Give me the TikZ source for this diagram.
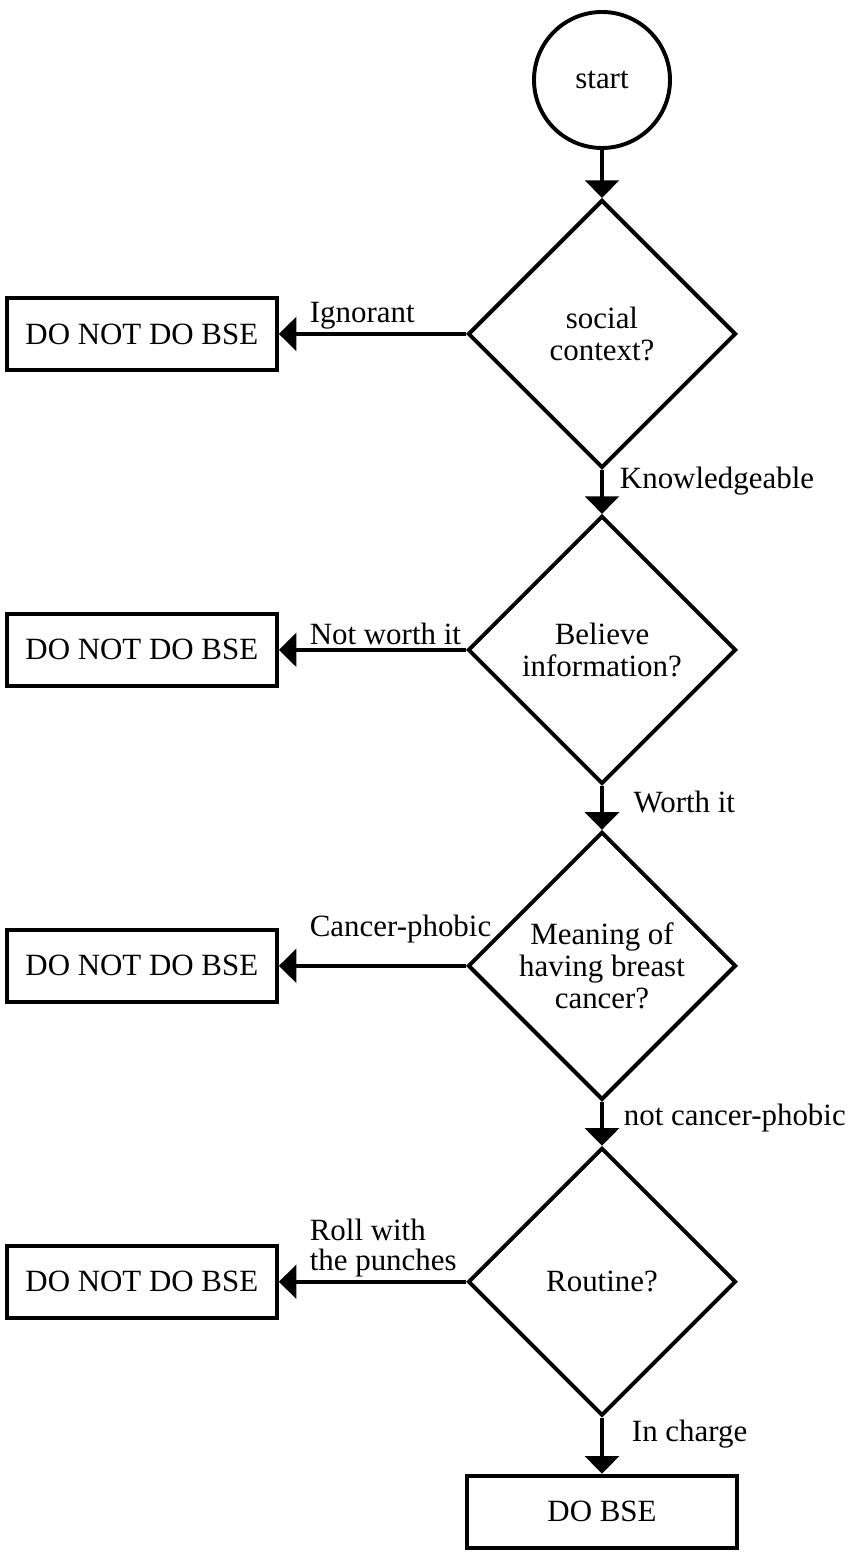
\documentclass[tikz,border=0pt]{standalone}
\usepackage{fontspec}
\setmainfont{Liberation Serif}
\usetikzlibrary{shapes.geometric,arrows.meta,positioning}

\begin{document}
\begin{tikzpicture}[
    node distance=0.55cm,
    every node/.style={font=\fontsize{11}{11.5}\selectfont},
    startnode/.style={circle, draw, line width=1.4pt, minimum size=1.7cm, inner sep=0pt},
    decision/.style={diamond, draw, line width=1.4pt, minimum width=3.35cm, minimum height=3.35cm, aspect=1, inner sep=0pt, align=center},
    outcome/.style={rectangle, draw, line width=1.4pt, minimum width=3.375cm, minimum height=0.9cm, inner sep=0pt},
    arrow/.style={-{Triangle[length=0.22cm, width=0.42cm]}, line width=1.4pt},
    sidelabel/.style={pos=0.86, anchor=south west, inner sep=1pt, align=left},
    downlabel/.style={pos=0.3, anchor=west, xshift=0.25cm, inner sep=0pt}
]
\useasboundingbox (-7.525,1.0) rectangle (3.175,-18.4375);

% Main chain
\node[startnode] (start) {start};
\node[decision, below=0.6cm of start] (social) {social\\context?};
\node[decision, below=of social] (believe) {Believe\\information?};
\node[decision, below=of believe] (meaning) {Meaning of\\having breast\\cancer?};
\node[decision, below=of meaning] (routine) {Routine?};
\node[outcome, below=0.7cm of routine] (dobse) {DO BSE};

% Negative outcomes
\node[outcome, left=2.34cm of social] (nobse1) {DO NOT DO BSE};
\node[outcome, left=2.34cm of believe] (nobse2) {DO NOT DO BSE};
\node[outcome, left=2.34cm of meaning] (nobse3) {DO NOT DO BSE};
\node[outcome, left=2.34cm of routine] (nobse4) {DO NOT DO BSE};

% Arrows down the chain
\draw[arrow] (start) -- (social);
\draw[arrow] (social) -- node[downlabel, pos=0.25, xshift=-0.05cm] {Knowledgeable} (believe);
\draw[arrow] (believe) -- node[downlabel, pos=0.37, xshift=0.12cm] {Worth it} (meaning);
\draw[arrow] (meaning) -- node[downlabel, pos=0.37] {not cancer-phobic} (routine);
\draw[arrow] (routine) -- node[downlabel, xshift=0.1cm] {In charge} (dobse);

% Arrows to the left
\draw[arrow] (social) -- node[sidelabel] {Ignorant} (nobse1);
\draw[arrow] (believe) -- node[sidelabel] {Not worth it} (nobse2);
\draw[arrow] (meaning) -- node[sidelabel, yshift=0.22cm] {Cancer-phobic} (nobse3);
\draw[arrow] (routine) -- node[sidelabel, font=\fontsize{11}{10.5}\selectfont] {Roll with\\the punches} (nobse4);

\end{tikzpicture}
\end{document}
